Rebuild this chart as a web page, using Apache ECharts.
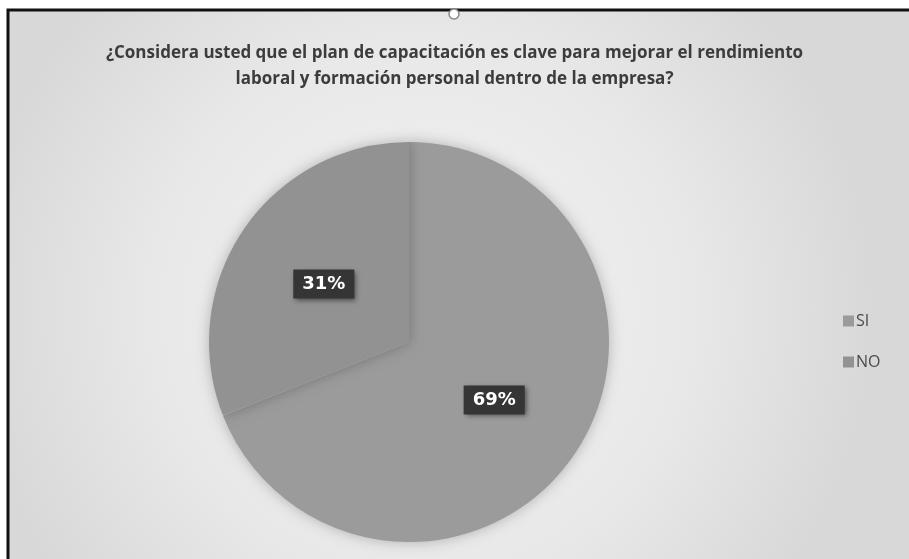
<!DOCTYPE html>
<html>
<head>
<meta charset="utf-8">
<script src="https://cdn.jsdelivr.net/npm/echarts@6/dist/echarts.min.js"></script>
<style>
  html, body { margin: 0; padding: 0; background: #ffffff; }
  #chart { width: 909px; height: 559px; }
</style>
</head>
<body>
<div id="chart"></div>
<script>
// Survey answers
const titleLines = [
  '¿Considera usted que el plan de capacitación es clave para mejorar el rendimiento',
  'laboral y formación personal dentro de la empresa?'
];
const categories = ['SI', 'NO'];
const shares = [69, 31];
const sliceColors = ['#9b9b9b', '#929292'];

const chart = echarts.init(document.getElementById('chart'), null, { renderer: 'canvas' });

const pieData = categories.map((name, i) => ({
  name,
  value: shares[i],
  itemStyle: { color: sliceColors[i] }
}));

chart.setOption({
  animation: false,
  backgroundColor: '#ffffff',
  graphic: [
    {
      type: 'rect',
      z: -10,
      shape: { x: 8, y: 10, width: 920, height: 600 },
      style: {
        fill: {
          type: 'radial', x: 0.45, y: 0.5, r: 0.75,
          colorStops: [
            { offset: 0, color: '#f4f4f4' },
            { offset: 0.6, color: '#e8e8e8' },
            { offset: 1, color: '#d8d8d8' }
          ]
        },
        stroke: '#111111',
        lineWidth: 3
      }
    },
    {
      type: 'circle',
      z: 10,
      shape: { cx: 454, cy: 14, r: 5 },
      style: { fill: '#ffffff', stroke: '#888888', lineWidth: 1.5 }
    }
  ],
  title: {
    text: titleLines.join('\n'),
    left: 'center',
    top: 35,
    textStyle: {
      fontFamily: '"Open Sans", sans-serif',
      fontWeight: 'bold',
      fontSize: 17,
      lineHeight: 26,
      color: '#3c3c3c'
    }
  },
  legend: {
    orient: 'vertical',
    left: 838,
    top: 308,
    itemWidth: 11,
    itemHeight: 11,
    itemGap: 25,
    icon: 'rect',
    data: categories,
    textStyle: {
      fontFamily: '"Open Sans", sans-serif',
      fontSize: 16,
      color: '#4a4a4a',
      padding: [0, 0, 0, -3]
    }
  },
  series: [
    {
      type: 'pie',
      center: [409, 342],
      radius: 200,
      startAngle: 90,
      clockwise: true,
      data: pieData,
      itemStyle: {
        shadowBlur: 14,
        shadowColor: 'rgba(0,0,0,0.25)'
      },
      label: {
        show: true,
        position: 'inside',
        formatter: (p) => p.value + '%',
        fontFamily: '"DejaVu Sans", Verdana, sans-serif',
        fontWeight: 'bold',
        fontSize: 18,
        color: '#ffffff',
        backgroundColor: '#353535',
        padding: [6, 9, 5, 9],
        shadowBlur: 5,
        shadowColor: 'rgba(0,0,0,0.5)',
        shadowOffsetX: 2,
        shadowOffsetY: 2
      },
      labelLine: { show: false },
      emphasis: { disabled: true }
    }
  ]
});
</script>
</body>
</html>
